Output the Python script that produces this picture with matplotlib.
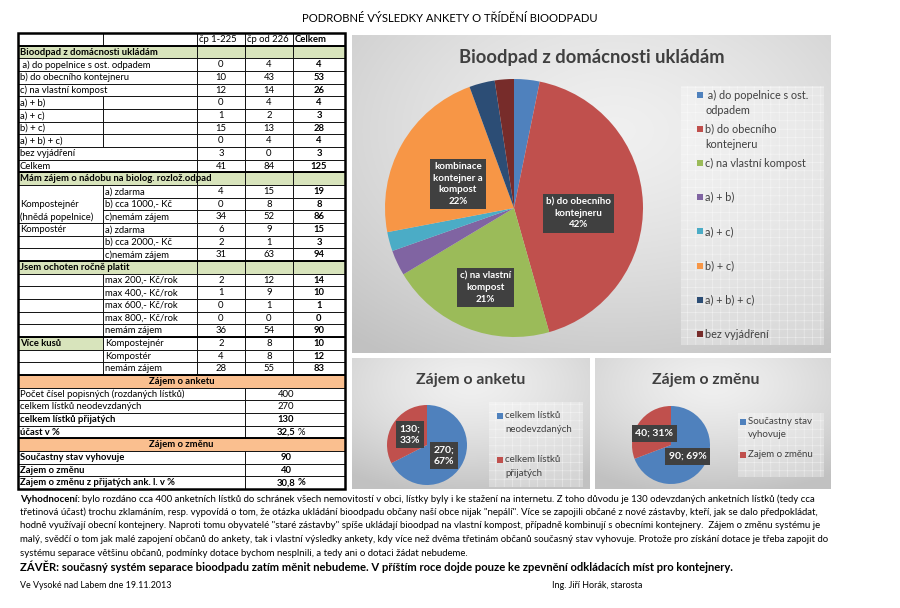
import numpy as np
import matplotlib
matplotlib.use('Agg')
import matplotlib.pyplot as plt
from matplotlib.patches import Rectangle

plt.rcParams['font.family'] = ['Lato', 'DejaVu Sans']
plt.rcParams['hatch.linewidth'] = 0.4

W, H = 900, 608

# ---------------- data ----------------
page_title = 'PODROBNÉ VÝSLEDKY ANKETY O TŘÍDĚNÍ BIOODPADU'
col_headers = ['čp 1-225', 'čp od 226', 'Celkem']

bio_title = 'Bioodpad z domácnosti ukládám'
bio_labels = [' a) do popelnice s ost. odpadem', 'b) do obecního kontejneru', 'c) na vlastní kompost',
              'a) + b)', 'a) + c)', 'b) + c)', 'a) + b) + c)', 'bez vyjádření']
bio_cp1 = [0, 10, 12, 0, 1, 15, 0, 3]
bio_cp2 = [4, 43, 14, 4, 2, 13, 4, 0]
bio_total = [4, 53, 26, 4, 3, 28, 4, 3]
bio_legend = [' a) do popelnice s ost.\nodpadem', 'b) do obecního\nkontejneru', 'c) na vlastní kompost',
              'a) + b)', 'a) + c)', 'b) + c)', 'a) + b) + c)', 'bez vyjádření']
bio_slice_text = [None, 'b) do obecního\nkontejneru', 'c) na vlastní\nkompost', None, None,
                  'kombinace\nkontejner a\nkompost', None, None]

nadoba_title = 'Mám zájem o nádobu na biolog. rozlož.odpad'
nadoba_groups = ['', 'Kompostejnér', '(hnědá popelnice)', 'Kompostér', '', '']
nadoba_labels = ['a) zdarma', 'b) cca 1000,- Kč', 'c)nemám zájem', 'a) zdarma', 'b) cca 2000,- Kč', 'c)nemám zájem']
nadoba_cp1 = [4, 0, 34, 6, 2, 31]
nadoba_cp2 = [15, 8, 52, 9, 1, 63]
nadoba_total = [19, 8, 86, 15, 3, 94]

platit_title = 'Jsem ochoten ročně platit'
platit_labels = ['max 200,- Kč/rok', 'max 400,- Kč/rok', 'max 600,- Kč/rok', 'max 800,- Kč/rok', 'nemám zájem']
platit_cp1 = [2, 1, 0, 0, 36]
platit_cp2 = [12, 9, 1, 0, 54]
platit_total = [14, 10, 1, 0, 90]

kusu_title = 'Více kusů'
kusu_labels = ['Kompostejnér', 'Kompostér', 'nemám zájem']
kusu_cp1 = [2, 4, 28]
kusu_cp2 = [8, 8, 55]
kusu_total = [10, 12, 83]

anketa_title = 'Zájem o anketu'
anketa_labels = ['Počet čísel popisných (rozdaných lístků)', 'celkem lístků neodevzdaných',
                 'celkem lístků přijatých', 'účast v %']
anketa_values = ['400', '270', '130', '32,5']
anketa_bold = [False, False, True, True]

zmena_title = 'Zájem o změnu'
zmena_labels = ['Součastny stav vyhovuje', 'Zajem o změnu', 'Zajem o změnu z přijatých ank. l. v %']
zmena_values = ['90', '40', '30,8']

anketa_pie_labels = ['celkem lístků\nneodevzdaných', 'celkem lístků\npřijatých']
anketa_pie_values = [270, 130]
zmena_pie_labels = ['Součastny stav\nvyhovuje', 'Zajem o změnu']
zmena_pie_values = [90, 40]

paragraph = [
    'bylo rozdáno cca 400 anketních lístků do schránek všech nemovitostí v obci, lístky byly i ke stažení na internetu. Z toho důvodu je 130 odevzdaných anketních lístků (tedy cca',
    'třetinová účast) trochu zklamáním, resp. vypovídá o tom, že otázka ukládání bioodpadu občany naší obce nijak "nepálí". Více se zapojili občané z nové zástavby, kteří, jak se dalo předpokládat,',
    'hodně využívají obecní kontejnery. Naproti tomu obyvatelé "staré zástavby" spíše ukládají bioodpad na vlastní kompost, případně kombinují s obecními kontejnery.  Zájem o změnu systému je',
    'malý, svědčí o tom jak malé zapojení občanů do ankety, tak i vlastní výsledky ankety, kdy více než dvěma třetinám občanů současný stav vyhovuje. Protože pro získání dotace je třeba zapojit do',
    'systému separace většinu občanů, podmínky dotace bychom nesplnili, a tedy ani o dotaci žádat nebudeme.',
]
zaver = 'ZÁVĚR: současný systém separace bioodpadu zatím měnit nebudeme. V příštím roce dojde pouze ke zpevnění odkládacích míst pro kontejnery.'
place_date = 'Ve Vysoké nad Labem dne 19.11.2013'
signature = 'Ing. Jiří Horák, starosta'

office = ['#4f81bd', '#c0504d', '#9bbb59', '#8064a2', '#4bacc6', '#f79646', '#2c4d75', '#772c2a']
GREEN = '#d8e4bc'
ORANGE = '#fabf8f'
DARK = '#404040'

# ---------------- canvas ----------------
fig = plt.figure(figsize=(W / 100, H / 100), dpi=100)
ax = fig.add_axes([0, 0, 1, 1])
ax.set_xlim(0, W)
ax.set_ylim(H, 0)
ax.axis('off')

ax.text(450, 18, page_title, ha='center', va='center', fontsize=8.1, color='black')

# ---------------- table ----------------
X = [18, 103, 197, 245, 293, 345]
T0 = 33
RH = (489 - T0) / 36
FS = 6.8


def ry(r):
    return T0 + r * RH


def cell(r, c0, c1, text='', fc='white', bold=False, ha='left', nrows=1):
    x0, x1 = X[c0], X[c1]
    ax.add_patch(Rectangle((x0, ry(r)), x1 - x0, RH * nrows, fc=fc, ec='black', lw=0.6, zorder=2))
    if text != '':
        tx = x0 + 2 if ha == 'left' else (x0 + x1) / 2
        ax.text(tx, ry(r) + RH / 2 + 0.3, text, ha=ha, va='center', fontsize=FS,
                fontweight='bold' if bold else 'normal', zorder=3)


def num_row(r, a, b, t):
    cell(r, 2, 3, str(a), ha='center')
    cell(r, 3, 4, str(b), ha='center')
    cell(r, 4, 5, str(t), ha='center', bold=True)


def section(r, title):
    for c in (2, 3, 4):
        cell(r, c, c + 1, fc=GREEN)
    cell(r, 0, 2, title, fc=GREEN, bold=True)


# header
cell(0, 0, 1)
cell(0, 1, 2)
for i, h in enumerate(col_headers):
    cell(0, 2 + i, 3 + i, h, bold=(i == 2))

# bioodpad
section(1, bio_title)
for i, lab in enumerate(bio_labels):
    r = 2 + i
    if 3 <= i <= 6:
        cell(r, 0, 1, lab)
        cell(r, 1, 2)
    else:
        cell(r, 0, 2, lab)
    num_row(r, bio_cp1[i], bio_cp2[i], bio_total[i])
cell(10, 0, 2, 'Celkem')
num_row(10, sum(bio_cp1), sum(bio_cp2), sum(bio_total))

# nadoba
section(11, nadoba_title)
cell(12, 0, 1, nrows=3)
for i, lab in enumerate(nadoba_labels):
    r = 12 + i
    if i < 3:
        if nadoba_groups[i]:
            ax.text(X[0] + 2, ry(r) + RH / 2 + 0.3, nadoba_groups[i], ha='left', va='center',
                    fontsize=FS, zorder=3)
    else:
        cell(r, 0, 1, nadoba_groups[i])
    cell(r, 1, 2, lab)
    num_row(r, nadoba_cp1[i], nadoba_cp2[i], nadoba_total[i])

# platit
section(18, platit_title)
for i, lab in enumerate(platit_labels):
    r = 19 + i
    cell(r, 0, 1)
    cell(r, 1, 2, lab)
    num_row(r, platit_cp1[i], platit_cp2[i], platit_total[i])

# vice kusu
for i, lab in enumerate(kusu_labels):
    r = 24 + i
    if i == 0:
        cell(r, 0, 1, kusu_title, fc=GREEN, bold=True)
    else:
        cell(r, 0, 1)
    cell(r, 1, 2, lab)
    num_row(r, kusu_cp1[i], kusu_cp2[i], kusu_total[i])

# zajem o anketu / zmenu
VX = 286


def value_rows(r0, labels, values, bolds, pct_bold):
    for i, lab in enumerate(labels):
        r = r0 + i
        cell(r, 0, 3, lab, bold=bolds[i])
        cell(r, 3, 5)
        ax.text(VX, ry(r) + RH / 2 + 0.3, values[i], ha='center', va='center', fontsize=FS,
                fontweight='bold' if bolds[i] else 'normal', zorder=3)
        if i == len(labels) - 1:
            ax.text(VX + 12, ry(r) + RH / 2 + 0.3, '%', ha='left', va='center', fontsize=FS,
                    fontweight='bold' if pct_bold else 'normal', zorder=3)


cell(27, 0, 5, anketa_title, fc=ORANGE, bold=True, ha='center')
value_rows(28, anketa_labels, anketa_values, anketa_bold, False)
cell(32, 0, 5, zmena_title, fc=ORANGE, bold=True, ha='center')
value_rows(33, zmena_labels, zmena_values, [True] * len(zmena_labels), True)

for r in (1, 11, 18, 24, 27, 32):
    ax.plot([X[0], X[-1]], [ry(r), ry(r)], color='black', lw=1.4, zorder=4, solid_capstyle='butt')
ax.add_patch(Rectangle((X[0], T0), X[-1] - X[0], 36 * RH, fc='none', ec='black', lw=1.8, zorder=5))


# ---------------- chart panels ----------------
def panel(x0, y0, x1, y1, fx=0.55, fy=0.3):
    gx, gy = np.meshgrid(np.linspace(0, 1, 240), np.linspace(0, 1, 160))
    d = np.sqrt((gx - fx) ** 2 + (gy - fy) ** 2)
    v = 0.94 - 0.18 * np.clip(d / 0.85, 0, 1) ** 1.4
    ax.imshow(np.dstack([v, v, v]), extent=(x0, x1, y1, y0), origin='upper', aspect='auto',
              zorder=0, interpolation='bilinear')


def legend_box(x0, y0, x1, y1):
    ax.add_patch(Rectangle((x0, y0), x1 - x0, y1 - y0, fc=(1, 1, 1, 0.3), ec=(1, 1, 1, 0.55),
                           hatch='++', lw=0, zorder=1))


def legend(items, colors, mx, ys, step, fs=7):
    for lab, col, y in zip(items, colors, ys):
        ax.add_patch(Rectangle((mx, y - 3), 6, 6, fc=col, ec='none', zorder=2))
        for k, line in enumerate(lab.split('\n')):
            ax.text(mx + 8, y + k * step, line, ha='left', va='center', fontsize=fs, color=DARK, zorder=2)


def pie_axes(cx, cy, r):
    return fig.add_axes([(cx - r) / W, 1 - (cy + r) / H, 2 * r / W, 2 * r / H])


def draw_pie(cx, cy, r, values, colors, texts, dist, fs, dy=0.0):
    pax = pie_axes(cx, cy, r)
    wedges, _ = pax.pie(values, colors=colors, startangle=90, counterclock=False,
                        wedgeprops=dict(linewidth=0))
    pax.set_xlim(-1, 1)
    pax.set_ylim(-1, 1)
    pax.axis('off')
    for w, t, d in zip(wedges, texts, dist):
        if t is None:
            continue
        ang = np.deg2rad((w.theta1 + w.theta2) / 2)
        pax.text(d * np.cos(ang), d * np.sin(ang) + dy, t, ha='center', va='center', fontsize=fs,
                 color='white', fontweight='bold', linespacing=1.35, clip_on=False,
                 bbox=dict(boxstyle='square,pad=0.35', fc=DARK, ec='none'))


# big pie
panel(352, 35, 831, 353)
ax.text(592, 58, bio_title, ha='center', va='center', fontsize=13.2, fontweight='bold', color=DARK)
legend_box(681, 86, 824, 345)
big_ys = [95, 129, 163] + [163 + 34.2 * k for k in range(1, 6)]
legend(bio_legend, office, 697, big_ys, 15, fs=7.8)
tot = sum(bio_total)
bio_texts = [None if t is None else f'{t}\n{round(100 * v / tot)}%' for t, v in zip(bio_slice_text, bio_total)]
draw_pie(514, 208, 129, bio_total, office, bio_texts, [0.5, 0.5, 0.6, 0.5, 0.5, 0.5, 0.5, 0.5], 7, dy=-0.06)


def two_pct(values, sep):
    t = sum(values)
    p0 = int(100 * values[0] / t)
    pcts = [p0, 100 - p0]
    return [f'{v};{sep}{p}%' for v, p in zip(values, pcts)]


# anketa pie
panel(352, 358, 590, 489, fx=0.5, fy=0.2)
ax.text(471, 380, anketa_title, ha='center', va='center', fontsize=11.4, fontweight='bold', color=DARK)
legend_box(489, 402, 583, 487)
legend(anketa_pie_labels, office[:2], 497, [416, 460], 13)
draw_pie(427, 445, 40, anketa_pie_values, office[:2], two_pct(anketa_pie_values, '\n'), [0.5, 0.5], 7.5)

# zmena pie
panel(595, 358, 831, 489, fx=0.5, fy=0.2)
ax.text(706, 380, zmena_title, ha='center', va='center', fontsize=11.4, fontweight='bold', color=DARK)
legend_box(738, 413, 824, 477)
legend(zmena_pie_labels, office[:2], 740, [422, 454.7], 12.6)
draw_pie(671, 445, 39, zmena_pie_values, office[:2], two_pct(zmena_pie_values, ' '), [0.52, 0.52], 7.5)

# ---------------- text below ----------------
PF = 6.9
LY = [499, 512.5, 526, 539.5, 553]
renderer = fig.canvas.get_renderer()
lead = ax.text(20, LY[0], 'Vyhodnocení:', ha='left', va='center', fontsize=PF, fontweight='bold')
bb = lead.get_window_extent(renderer)
x_end = ax.transData.inverted().transform((bb.x1, bb.y0))[0]
for i, line in enumerate(paragraph):
    x = x_end + 2.5 if i == 0 else 20
    ax.text(x, LY[i], line, ha='left', va='center', fontsize=PF)
ax.text(20, 566.5, zaver, ha='left', va='center', fontsize=8.1, fontweight='bold')
ax.text(20, 585, place_date, ha='left', va='center', fontsize=6.4)
ax.text(552, 585, signature, ha='left', va='center', fontsize=6.45)

ax.set_xlim(0, W)
ax.set_ylim(H, 0)
fig.savefig('out.png', dpi=100)
